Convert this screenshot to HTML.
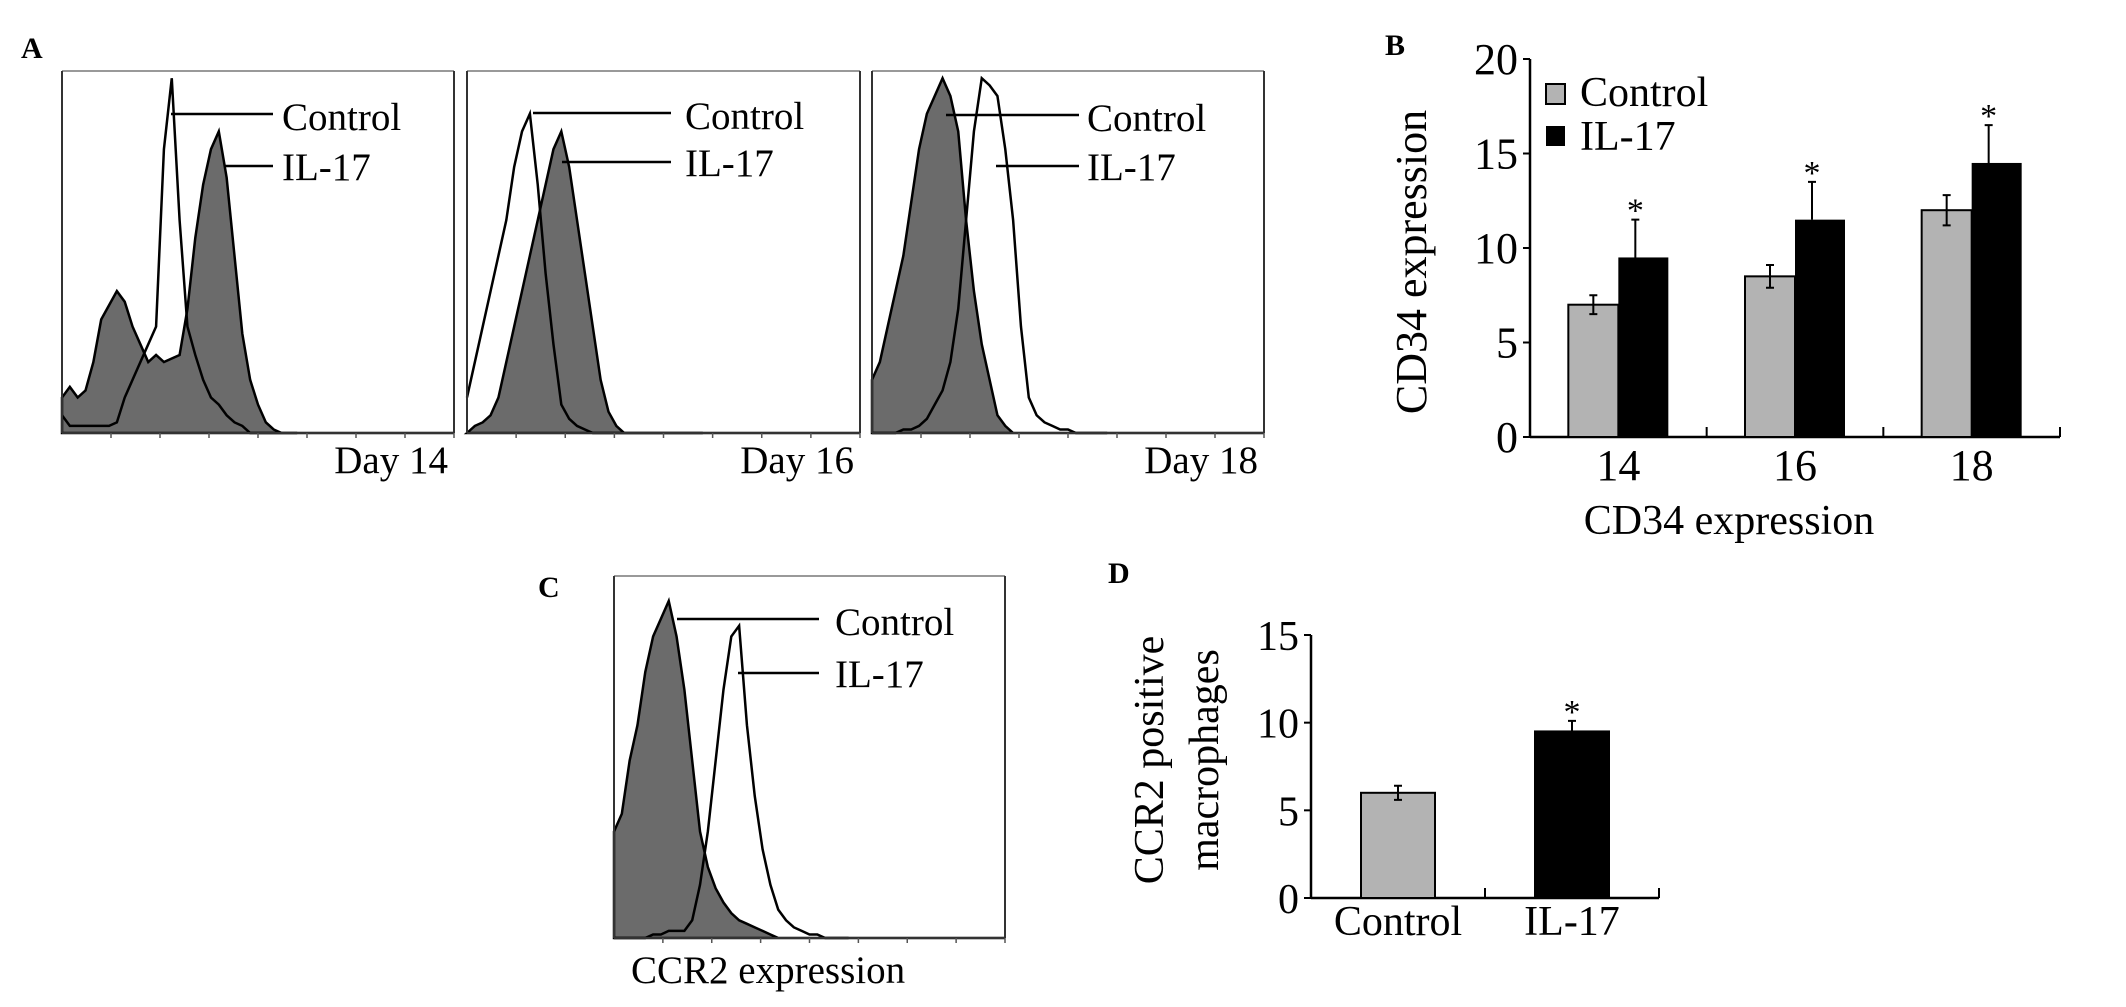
<!DOCTYPE html>
<html><head><meta charset="utf-8">
<style>
html,body{margin:0;padding:0;background:#fff;}
svg{display:block;font-family:"Liberation Serif",serif;}
</style></head>
<body>
<svg id="fig" width="2126" height="1007" viewBox="0 0 2126 1007">
<text x="21" y="58" font-size="30" font-weight="bold">A</text>
<text x="1385" y="55" font-size="30" font-weight="bold">B</text>
<text x="538" y="597" font-size="30" font-weight="bold">C</text>
<text x="1108" y="583" font-size="30" font-weight="bold">D</text>
<g id="hists"></g>
<g id="chartB"></g>
<g id="chartD"></g>
</svg>
<script>
// ---------- Histogram data (x fraction of box width, height fraction) ----------
const histX = [0,.02,.04,.06,.08,.10,.12,.14,.16,.18,.20,.22,.24,.26,.28,.30,.32,.34,.36,.38,.40,.42,.44,.46,.48,.50,.52,.54,.56,.58,.60];
const d14Fill = [.1,.13,.1,.12,.2,.32,.36,.4,.37,.3,.25,.2,.22,.2,.21,.22,.35,.55,.7,.8,.85,.72,.5,.28,.15,.08,.03,.01,0,0,0];
const d14Ctrl = [.05,.02,.02,.02,.02,.02,.02,.03,.1,.15,.2,.25,.3,.8,1.0,.6,.3,.22,.15,.1,.08,.05,.03,.02,0,0,0,0,0,0,0];
const d16Fill = [0,.02,.03,.05,.1,.2,.3,.4,.5,.6,.7,.8,.85,.75,.6,.45,.3,.15,.06,.02,0,0,0,0,0,0,0,0,0,0,0];
const d16Ctrl = [.1,.2,.3,.4,.5,.6,.75,.85,.9,.7,.45,.25,.08,.04,.02,.01,0,0,0,0,0,0,0,0,0,0,0,0,0,0,0];
const d18Fill = [.15,.2,.3,.4,.5,.65,.8,.9,.95,1.0,.95,.85,.6,.4,.25,.15,.05,.02,0,0,0,0,0,0,0,0,0,0,0,0,0];
const d18Ctrl = [0,0,0,0,.01,.01,.02,.04,.08,.12,.2,.35,.6,.85,1.0,.98,.95,.8,.6,.3,.1,.05,.03,.02,.01,.01,0,0,0,0,0];
const cFill = [.3,.35,.5,.6,.75,.85,.9,.95,.85,.7,.5,.3,.2,.14,.1,.07,.05,.04,.03,.02,.01,0,0,0,0,0,0,0,0,0,0];
const cCtrl = [0,0,0,0,0,.01,.01,.02,.02,.02,.05,.15,.3,.5,.7,.85,.88,.6,.4,.25,.15,.08,.05,.03,.02,.01,.01,0,0,0,0];

const NS = "http://www.w3.org/2000/svg";
function mk(tag, attrs, parent){const e=document.createElementNS(NS,tag);for(const k in attrs)e.setAttribute(k,attrs[k]);parent.appendChild(e);return e;}

const hg = document.getElementById('hists');
const panels = [
 {x:62,y:71,w:392,h:362,fill:d14Fill,ctrl:d14Ctrl,day:"Day 14",cl:[171,273,114],il:[225,273,166],tx:282,dy:473,name:'day14'},
 {x:467,y:71,w:393,h:362,fill:d16Fill,ctrl:d16Ctrl,day:"Day 16",cl:[533,671,113],il:[562,671,162],tx:685,dy:473,name:'day16'},
 {x:872,y:71,w:392,h:362,fill:d18Fill,ctrl:d18Ctrl,day:"Day 18",cl:[946,1079,115],il:[996,1079,166],tx:1087,dy:473,name:'day18'},
 {x:614,y:576,w:391,h:362,fill:cFill,ctrl:cCtrl,day:null,cl:[677,819,619],il:[738,819,673],tx:835,dy:0,name:'ccr2'}
];
panels.forEach(p=>{
  const g = mk('g',{},hg);
  
  
  const sx = v=>p.x+v*p.w, sy=v=>p.y+p.h-v*p.h*0.98;
  let d = 'M'+sx(0)+','+sy(0);
  histX.forEach((xv,i)=>{d+=' L'+sx(xv)+','+sy(p.fill[i]);});
  d += ' L'+sx(histX[histX.length-1])+','+sy(0)+' Z';
  const f = mk('path',{d:d,fill:'#6b6b6b',stroke:'#000','stroke-width':2.5},g);
  
  
  let d2 = '';
  histX.forEach((xv,i)=>{d2+=(i?' L':'M')+sx(xv)+','+sy(p.ctrl[i]);});
  d2 += ' L'+(p.x+p.w)+','+sy(0);
  const c = mk('path',{d:d2,fill:'none',stroke:'#000','stroke-width':2.5},g);
  
  
  mk('line',{x1:p.x,y1:p.y,x2:p.x+p.w,y2:p.y,stroke:'#999','stroke-width':2},g);
  mk('line',{x1:p.x,y1:p.y,x2:p.x,y2:p.y+p.h,stroke:'#333','stroke-width':2},g);
  mk('line',{x1:p.x+p.w,y1:p.y,x2:p.x+p.w,y2:p.y+p.h,stroke:'#333','stroke-width':2},g);
  mk('line',{x1:p.x,y1:p.y+p.h,x2:p.x+p.w,y2:p.y+p.h,stroke:'#333','stroke-width':2},g);
  for(let i=1;i<9;i++){mk('line',{x1:p.x+i*p.w/8,y1:p.y+p.h,x2:p.x+i*p.w/8,y2:p.y+p.h+5,stroke:'#555','stroke-width':1.5},g);}
  mk('line',{x1:p.cl[0],y1:p.cl[2],x2:p.cl[1],y2:p.cl[2],stroke:'#000','stroke-width':2.5},g);
  mk('line',{x1:p.il[0],y1:p.il[2],x2:p.il[1],y2:p.il[2],stroke:'#000','stroke-width':2.5},g);
  const t1 = mk('text',{x:p.tx,y:p.cl[2]+16,'font-size':39},g); t1.textContent='Control';
  
  
  const t2 = mk('text',{x:p.tx,y:p.il[2]+14,'font-size':39},g); t2.textContent='IL-17';
  
  
  if(p.day){
    const t3 = mk('text',{x:p.x+p.w-6,y:p.dy,'font-size':39,'text-anchor':'end'},g); t3.textContent=p.day;
    
    
  }
});
const cx = mk('text',{x:631,y:983,'font-size':39},hg); cx.textContent='CCR2 expression';


</script>
<script>
// ---------- Chart B data ----------
const bCategories = ["14","16","18"];
const bControl = [7, 8.5, 12];
const bControlErr = [0.5, 0.6, 0.8];
const bIL17 = [9.5, 11.5, 14.5];
const bIL17Err = [2, 2, 2];
const bTicks = [0,5,10,15,20];

const gB = document.getElementById('chartB');
(function(){
  const x0=1530, x1=2060, y0=437, yTop=59, yMax=20;
  const ys = v=> y0 - v*(y0-yTop)/yMax;
  const gw = (x1-x0)/bCategories.length, bw=50;
  mk('line',{x1:x0,y1:yTop,x2:x0,y2:y0,stroke:'#000','stroke-width':2.5},gB);
  mk('line',{x1:x0,y1:y0,x2:x1,y2:y0,stroke:'#000','stroke-width':2.5},gB);
  bTicks.forEach(t=>{
    mk('line',{x1:x0-7,y1:ys(t),x2:x0,y2:ys(t),stroke:'#000','stroke-width':2},gB);
    const l=mk('text',{x:x0-12,y:ys(t)+15,'font-size':44,'text-anchor':'end'},gB); l.textContent=t;
    
    
  });
  bCategories.forEach((c,i)=>{
    const gx = x0+gw*(i+1);
    mk('line',{x1:gx,y1:y0-10,x2:gx,y2:y0,stroke:'#000','stroke-width':2},gB);
    const cen = x0+gw*(i+0.5);
    const r1 = mk('rect',{x:cen-bw,y:ys(bControl[i]),width:bw,height:y0-ys(bControl[i]),fill:'#b3b3b3',stroke:'#000','stroke-width':2},gB);
    
    
    const r2 = mk('rect',{x:cen,y:ys(bIL17[i]),width:bw,height:y0-ys(bIL17[i]),fill:'#000'},gB);
    
    
    const ex1 = cen-bw/2;
    mk('path',{d:`M${ex1},${ys(bControl[i]-bControlErr[i])} V${ys(bControl[i]+bControlErr[i])} M${ex1-4},${ys(bControl[i]-bControlErr[i])} h8 M${ex1-4},${ys(bControl[i]+bControlErr[i])} h8`,stroke:'#000','stroke-width':2,fill:'none'},gB);
    const ex2 = cen+bw/2-8;
    mk('path',{d:`M${ex2},${ys(bIL17[i])} V${ys(bIL17[i]+bIL17Err[i])} M${ex2-4},${ys(bIL17[i]+bIL17Err[i])} h8`,stroke:'#000','stroke-width':2,fill:'none'},gB);
    const st = mk('text',{x:ex2,y:ys(bIL17[i]+bIL17Err[i])+2,'font-size':34,'text-anchor':'middle'},gB); st.textContent='*';
    
    
    const xl = mk('text',{x:cen,y:480,'font-size':44,'text-anchor':'middle'},gB); xl.textContent=c;
    
    
  });
  const lr1 = mk('rect',{x:1546,y:84,width:19,height:20,fill:'#b3b3b3',stroke:'#000','stroke-width':2},gB);
  
  
  const lt1 = mk('text',{x:1580,y:106,'font-size':42},gB); lt1.textContent='Control';
  
  
  const lr2 = mk('rect',{x:1546,y:126,width:19,height:20,fill:'#000'},gB);
  
  
  const lt2 = mk('text',{x:1580,y:150,'font-size':42},gB); lt2.textContent='IL-17';
  
  
  const yt = mk('text',{x:0,y:0,'font-size':44,'text-anchor':'middle',transform:'translate(1426,262) rotate(-90)'},gB); yt.textContent='CD34 expression';
  
  
  const xt = mk('text',{x:1729,y:534,'font-size':42,'text-anchor':'middle'},gB); xt.textContent='CD34 expression';
  
  
})();
</script>
<script>
// ---------- Chart D data ----------
const dCategories = ["Control","IL-17"];
const dValues = [6, 9.5];
const dErr = [0.4, 0.6];
const dTicks = [0,5,10,15];

const gD = document.getElementById('chartD');
(function(){
  const x0=1311, x1=1659, y0=898, yTop=635, yMax=15;
  const ys = v=> y0 - v*(y0-yTop)/yMax;
  const gw=(x1-x0)/dCategories.length, bw=74;
  const fills=['#b3b3b3','#000'];
  mk('line',{x1:x0,y1:yTop,x2:x0,y2:y0,stroke:'#000','stroke-width':2.5},gD);
  mk('line',{x1:x0,y1:y0,x2:x1,y2:y0,stroke:'#000','stroke-width':2.5},gD);
  dTicks.forEach(t=>{
    mk('line',{x1:x0-7,y1:ys(t),x2:x0,y2:ys(t),stroke:'#000','stroke-width':2},gD);
    const l=mk('text',{x:x0-12,y:ys(t)+15,'font-size':42,'text-anchor':'end'},gD); l.textContent=t;
    
    
  });
  dCategories.forEach((c,i)=>{
    const gx=x0+gw*(i+1);
    mk('line',{x1:gx,y1:y0-10,x2:gx,y2:y0,stroke:'#000','stroke-width':2},gD);
    const cen=x0+gw*(i+0.5);
    const r=mk('rect',{x:cen-bw/2,y:ys(dValues[i]),width:bw,height:y0-ys(dValues[i]),fill:fills[i],stroke:'#000','stroke-width':2},gD);
    
    
    const lo = i===0 ? dValues[i]-dErr[i] : dValues[i];
    mk('path',{d:`M${cen},${ys(lo)} V${ys(dValues[i]+dErr[i])} M${cen-4},${ys(dValues[i]+dErr[i])} h8`+(i===0?` M${cen-4},${ys(lo)} h8`:''),stroke:'#000','stroke-width':2,fill:'none'},gD);
    if(i===1){const st=mk('text',{x:cen,y:ys(dValues[i]+dErr[i])+2,'font-size':34,'text-anchor':'middle'},gD); st.textContent='*';
      
      }
    const xl=mk('text',{x:cen,y:935,'font-size':42,'text-anchor':'middle'},gD); xl.textContent=c;
    
    
  });
  const y1=mk('text',{x:0,y:0,'font-size':42,'text-anchor':'middle',transform:'translate(1163,760) rotate(-90)'},gD); y1.textContent='CCR2 positive';
  
  
  const y2=mk('text',{x:0,y:0,'font-size':42,'text-anchor':'middle',transform:'translate(1218,760) rotate(-90)'},gD); y2.textContent='macrophages';
  
  
})();
</script>
</body></html>
